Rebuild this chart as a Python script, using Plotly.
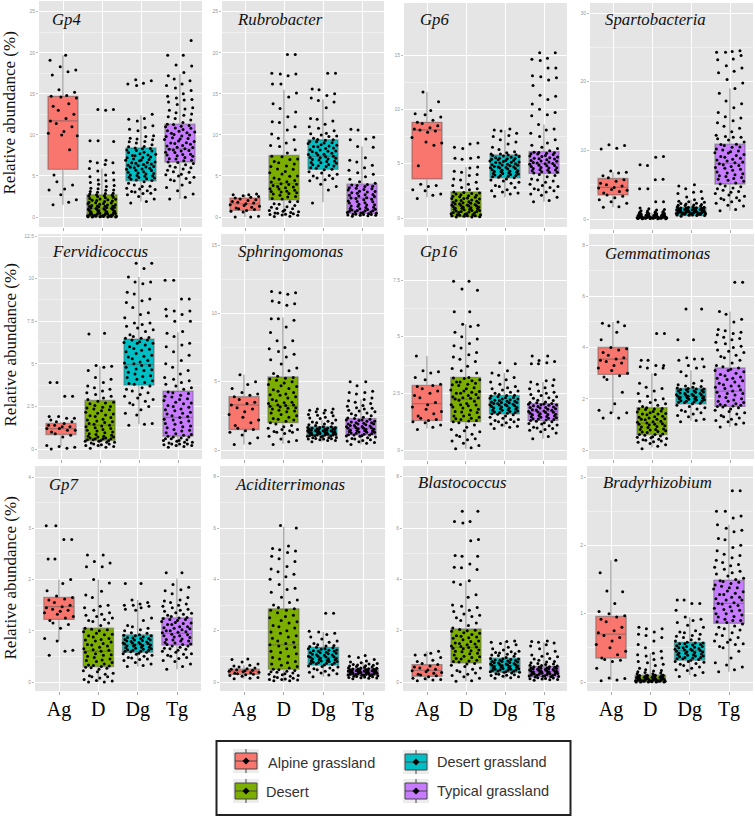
import plotly.graph_objects as go

W, H = 755, 817
CATS = ["Ag", "D", "Dg", "Tg"]
COLORS = ["#F8766D", "#7CAE00", "#00BFC4", "#C77CFF"]
LEGEND_NAMES = ["Alpine grassland", "Desert", "Desert grassland", "Typical grassland"]
TAXA = ["Gp4", "Rubrobacter", "Gp6", "Spartobacteria", "Fervidicoccus", "Sphringomonas",
        "Gp16", "Gemmatimonas", "Gp7", "Aciditerrimonas", "Blastococcus", "Bradyrhizobium"]

# box statistics: low whisker, q1, median, q3, high whisker for Ag, D, Dg, Tg
GP4_STATS = [[1.5, 5.8, 11.7, 14.7, 19.7], [0, 0, 1.05, 2.7, 5.9], [1.9, 4.4, 6.3, 8.4, 12.4], [2.2, 6.7, 8.3, 11.3, 17.4]]
RUB_STATS = [[0, 0.8, 1.6, 2.3, 2.7], [0.1, 2.1, 4.1, 7.5, 15.5], [1.8, 5.8, 7.4, 9.4, 14.3], [0.05, 0.45, 2.3, 4.0, 8.6]]
GP6_STATS = [[1.9, 3.6, 8.1, 8.8, 11.6], [0.05, 0.1, 1.15, 2.4, 4.7], [1.9, 3.7, 4.8, 5.8, 8.1], [1.5, 4.1, 5.0, 6.1, 8.6]]
SPA_STATS = [[1.7, 3.5, 4.6, 5.9, 6.8], [0, 0.05, 0.2, 0.35, 0.9], [0.3, 0.5, 1.1, 1.7, 2.8], [1.2, 5.1, 8.1, 10.9, 19]]
FER_STATS = [[0.15, 0.85, 1.2, 1.5, 1.6], [0.05, 0.5, 1.4, 2.85, 4.85], [1.45, 3.75, 4.95, 6.45, 10.1], [0.1, 0.75, 1.85, 3.4, 6.85]]
SPH_STATS = [[0.4, 1.5, 3.3, 3.9, 5.5], [0.45, 2.0, 3.25, 5.35, 9.7], [0.6, 1.05, 1.35, 1.7, 2.2], [0.4, 1.1, 1.6, 2.3, 3.7]]
G16_STATS = [[0.95, 1.3, 2.05, 2.85, 4.15], [0.05, 1.25, 2.25, 3.2, 5.55], [1.0, 1.6, 2.05, 2.4, 3.4], [0.5, 1.3, 1.7, 2.05, 3.0]]
GEM_STATS = [[1.45, 2.95, 3.55, 4.0, 5.0], [0.1, 0.6, 1.05, 1.65, 3.0], [1.15, 1.8, 2.1, 2.4, 3.1], [0.9, 1.7, 2.3, 3.2, 5.4]]
GP7_STATS = [[0.8, 1.22, 1.47, 1.65, 2.0], [0, 0.3, 0.6, 1.05, 2.0], [0.3, 0.58, 0.73, 0.92, 1.6], [0.25, 0.72, 0.95, 1.25, 2.02]]
ACI_STATS = [[0.13, 0.3, 0.42, 0.5, 0.65], [0, 0.5, 1.45, 2.85, 6.05], [0.2, 0.66, 0.97, 1.35, 1.95], [0.13, 0.26, 0.4, 0.52, 0.78]]
BLA_STATS = [[0.05, 0.22, 0.45, 0.68, 1.2], [0.03, 0.75, 1.35, 2.07, 3.95], [0.13, 0.38, 0.65, 0.93, 1.6], [0.07, 0.2, 0.4, 0.6, 1.55]]
BRA_STATS = [[0.03, 0.35, 0.7, 0.96, 1.78], [0, 0, 0.04, 0.1, 0.42], [0.1, 0.32, 0.46, 0.58, 0.95], [0.15, 0.86, 1.15, 1.49, 2.3]]

# jittered sample points
GP4_AG = [19.7,19.1,18.3,17.9,17.7,17.3,15.5,15.2,14.8,14.7,14.6,14.5,13.8,13.5,13.0,12.5,12.0,11.7,11.4,11.0,10.4,10.2,10.0,9.9,8.2,5.1,4.3,3.9,3.4,3.3,2.7,2.1,1.8,1.5]
GP4_D = [13.1,13.1,13.0,9.3,9.3,9.2,6.9,6.8,6.6,6.6,6.4,5.9,5.6,5.4,5.1,4.9,4.5,4.5,4.4,4.2,4.0,3.7,3.5,3.3,3.1,3.0,2.9,2.8,2.7,2.6,2.5,2.4,2.2,2.1,2.0,1.9,1.8,1.6,1.5,1.4,1.3,1.3,1.2,1.1,1.0,0.9,0.9,0.8,0.7,0.6,0.5,0.5,0.4,0.3,0.3,0.2,0.2,0.1,0.1,0.1,0.05,0.05,0,0]
GP4_DG = [16.7,16.6,16.3,16.2,16.0,12.5,12.0,11.9,11.7,11.1,10.9,10.7,10.5,9.9,9.8,9.6,9.5,9.4,9.2,9.0,8.8,8.6,8.4,8.3,8.1,7.9,7.7,7.5,7.3,7.2,7.0,6.9,6.7,6.6,6.4,6.3,6.1,6.0,5.8,5.7,5.5,5.3,5.1,5.0,4.8,4.6,4.5,4.3,4.1,3.9,3.7,3.5,3.4,3.2,3.1,2.9,2.7,2.5,2.2,1.9,1.7]
GP4_TG = [21.5,19.7,19.7,18.5,18.4,17.6,17.2,16.8,16.6,16.2,16.0,15.7,15.4,15.0,14.7,14.5,14.3,14.0,13.7,13.3,13.0,12.7,12.4,12.2,12.0,11.8,11.5,11.3,11.0,10.8,10.5,10.2,10.0,9.8,9.5,9.2,9.0,8.7,8.5,8.3,8.1,7.9,7.6,7.4,7.1,6.9,6.7,6.5,6.2,6.0,5.7,5.5,5.2,5.0,4.7,4.4,4.2,3.9,3.6,3.2,2.8,2.4,2.2]
RUB_AG = [2.8,2.7,2.7,2.6,2.5,2.4,2.3,2.2,2.1,2.0,1.9,1.8,1.7,1.6,1.5,1.4,1.3,1.2,1.1,1.0,0.9,0.8,0.7,0.6,0.1,0.0,0.0]
RUB_D = [19.8,19.8,17.5,17.4,17.4,17.2,16.2,16.2,15.1,14.6,13.8,13.2,12.8,12.2,11.6,11.5,11.0,10.6,10.1,9.6,9.4,9.0,8.7,8.6,8.2,7.8,7.4,7.0,6.6,6.2,5.8,5.4,5.0,4.6,4.3,4.0,3.7,3.4,3.1,2.8,2.5,2.2,1.9,1.6,1.4,1.2,1.0,0.8,0.7,0.5,0.4,0.3,0.2,0.1,0.05]
RUB_DG = [17.5,17.5,15.6,15.5,15.0,14.8,14.5,14.2,14.0,13.3,12.0,11.9,11.7,11.3,11.0,10.8,10.5,10.2,10.0,9.8,9.6,9.4,9.2,9.0,8.8,8.6,8.4,8.2,8.0,7.8,7.6,7.4,7.2,7.0,6.8,6.6,6.4,6.2,6.0,5.8,5.5,5.2,5.0,4.7,4.4,4.0,3.7,3.3,1.7]
RUB_TG = [10.7,10.6,9.7,9.5,9.4,8.6,8.5,7.2,6.9,6.7,6.3,6.0,5.7,5.4,5.2,4.9,4.6,4.3,4.1,3.9,3.7,3.5,3.3,3.1,2.9,2.7,2.5,2.3,2.1,1.9,1.7,1.5,1.3,1.2,1.0,0.9,0.8,0.7,0.6,0.5,0.4,0.3,0.3,0.2,0.2,0.1]
GP6_AG = [11.6,10.7,9.9,9.6,9.5,9.3,9.0,8.8,8.7,8.5,8.3,8.2,8.1,8.0,7.9,7.4,7.0,6.9,6.7,4.8,3.1,3.0,2.9,2.6,2.5,2.2,2.1,1.8]
GP6_D = [6.9,6.8,6.5,6.4,5.6,5.5,5.5,5.4,4.7,4.6,4.3,4.2,4.0,3.9,3.6,3.5,3.3,3.1,3.0,2.8,2.7,2.6,2.4,2.3,2.1,2.0,1.9,1.8,1.6,1.5,1.4,1.3,1.2,1.1,1.0,0.9,0.8,0.7,0.6,0.5,0.4,0.3,0.3,0.2,0.2,0.1,0.1]
GP6_DG = [8.2,8.1,8.0,7.8,7.6,7.5,7.2,7.0,6.8,6.5,6.3,6.1,6.0,5.9,5.8,5.7,5.6,5.5,5.4,5.3,5.2,5.1,5.0,4.9,4.8,4.7,4.6,4.5,4.4,4.3,4.2,4.1,4.0,3.9,3.8,3.7,3.5,3.4,3.2,3.0,2.8,2.6,2.5,2.3,2.2,2.0]
GP6_TG = [15.2,15.2,14.7,14.6,14.5,13.8,13.8,13.1,13.0,12.9,12.7,12.2,11.3,11.2,10.9,10.5,10.0,9.7,9.5,9.4,8.6,8.2,8.1,7.8,7.5,7.2,6.9,6.7,6.5,6.2,6.0,5.9,5.7,5.5,5.3,5.1,5.0,4.8,4.6,4.4,4.2,4.0,3.8,3.5,3.3,3.1,2.9,2.7,2.5,2.2,1.6,1.5]
SPA_AG = [10.8,10.7,10.3,10.2,7.0,6.8,6.7,6.3,6.0,5.7,5.5,5.2,5.0,4.8,4.6,4.5,4.3,4.2,4.0,3.8,3.5,3.3,3.1,2.8,2.5,2.3,1.8,1.7]
SPA_D = [9.1,9.0,7.9,7.8,5.8,5.7,4.4,4.4,2.5,2.5,1.6,1.5,1.4,1.3,1.2,1.1,1.0,0.9,0.9,0.8,0.8,0.7,0.7,0.6,0.6,0.5,0.5,0.5,0.4,0.4,0.4,0.3,0.3,0.3,0.3,0.2,0.2,0.2,0.2,0.1,0.1,0.1,0.1,0.05,0.05]
SPA_DG = [5.0,4.8,4.4,4.0,3.9,3.7,3.2,3.0,2.8,2.6,2.5,2.3,2.2,2.1,2.0,1.9,1.8,1.7,1.6,1.5,1.5,1.4,1.4,1.3,1.3,1.2,1.2,1.1,1.1,1.0,1.0,0.9,0.9,0.8,0.8,0.7,0.7,0.6,0.6,0.5,0.5,0.4]
SPA_TG = [24.5,24.4,24.3,24.3,23.8,23.3,23.2,22.3,22.0,21.5,21.3,20.3,19.8,19.0,18.3,17.2,16.8,16.2,15.5,14.9,14.7,14.3,14.0,13.5,13.2,12.7,12.2,11.9,11.5,11.2,10.9,10.5,10.2,9.8,9.4,9.0,8.6,8.2,7.9,7.5,7.1,6.7,6.3,5.9,5.5,5.1,4.8,4.5,4.2,3.9,3.5,3.1,2.8,2.5,2.0,1.4,1.2]
FER_AG = [3.9,3.9,3.1,3.1,1.9,1.9,1.8,1.8,1.7,1.6,1.6,1.5,1.4,1.4,1.3,1.3,1.2,1.2,1.1,1.1,1.0,0.9,0.8,0.7,0.2,0.15,0.1,0.05,0.0]
FER_D = [6.8,6.75,4.9,4.85,4.8,4.6,4.2,4.1,3.9,3.7,3.5,3.4,3.3,3.1,3.0,2.9,2.8,2.7,2.5,2.4,2.3,2.1,2.0,1.9,1.7,1.6,1.5,1.4,1.3,1.2,1.1,1.0,0.9,0.8,0.7,0.6,0.6,0.5,0.4,0.3,0.3,0.2,0.2,0.1,0.05]
FER_DG = [10.9,10.9,10.6,10.1,9.8,9.8,9.7,9.2,9.1,8.8,8.7,8.6,8.3,8.0,7.9,7.7,7.4,7.4,7.3,7.1,6.9,6.7,6.5,6.4,6.2,6.0,5.8,5.6,5.4,5.2,5.0,4.9,4.7,4.5,4.3,4.1,3.9,3.7,3.5,3.3,3.1,2.9,2.7,2.5,2.3,2.1,2.0,1.5,1.45,1.4]
FER_TG = [9.9,9.9,8.8,8.8,8.2,8.1,8.1,7.9,7.8,7.5,7.5,6.9,6.8,6.6,6.2,6.1,6.0,5.7,5.5,5.2,5.0,4.8,4.6,4.4,4.2,4.1,3.9,3.7,3.5,3.3,3.1,2.9,2.7,2.5,2.3,2.1,1.9,1.7,1.5,1.3,1.1,0.9,0.8,0.7,0.6,0.5,0.4,0.3,0.3,0.2,0.1]
SPH_AG = [5.5,5.0,4.8,4.5,4.2,4.1,4.0,3.9,3.7,3.5,3.4,3.3,3.1,3.0,2.8,2.6,2.4,2.2,2.0,1.8,1.6,1.5,1.4,1.3,1.1,0.9,0.5,0.4]
SPH_D = [11.6,11.5,11.5,11.4,10.9,10.8,10.7,10.6,9.6,9.6,9.5,9.0,8.6,8.0,8.0,7.5,7.4,7.2,7.0,6.8,6.6,6.3,6.0,5.8,5.6,5.4,5.2,5.0,4.8,4.5,4.3,4.1,3.9,3.7,3.5,3.3,3.2,3.0,2.8,2.6,2.4,2.2,2.0,1.8,1.6,1.5,1.3,1.2,1.0,0.8,0.7,0.6,0.4]
SPH_DG = [3.0,3.0,2.9,2.9,2.8,2.7,2.6,2.5,2.4,2.3,2.2,2.1,2.0,1.9,1.8,1.7,1.7,1.6,1.5,1.5,1.4,1.4,1.3,1.3,1.2,1.2,1.2,1.1,1.1,1.0,1.0,0.9,0.9,0.8,0.8,0.7,0.7,0.6]
SPH_TG = [5.0,5.0,4.7,4.3,4.2,4.2,4.1,3.8,3.7,3.6,3.5,3.4,3.2,3.1,3.0,2.9,2.8,2.7,2.5,2.4,2.3,2.2,2.1,2.0,1.9,1.9,1.8,1.7,1.6,1.6,1.5,1.4,1.4,1.3,1.3,1.2,1.1,1.1,1.0,0.9,0.8,0.7,0.6,0.5,0.4]
G16_AG = [4.15,3.5,3.45,3.4,3.2,3.1,2.9,2.85,2.8,2.7,2.6,2.5,2.4,2.3,2.1,2.0,1.9,1.8,1.7,1.6,1.5,1.4,1.35,1.3,1.25,1.2,1.1,1.0,0.9]
G16_D = [7.45,7.45,7.1,7.05,6.1,6.1,5.55,5.5,5.45,5.2,5.0,4.9,4.7,4.6,4.5,4.3,4.2,4.1,4.0,3.9,3.7,3.6,3.5,3.4,3.2,3.1,3.0,2.9,2.7,2.6,2.5,2.4,2.3,2.2,2.0,1.9,1.8,1.7,1.5,1.4,1.3,1.2,1.1,1.0,0.9,0.8,0.7,0.6,0.5,0.4,0.3,0.2,0.1,0.05]
G16_DG = [3.85,3.8,3.5,3.4,3.3,3.2,3.1,3.0,2.9,2.8,2.7,2.6,2.5,2.45,2.4,2.3,2.25,2.2,2.15,2.1,2.05,2.0,1.95,1.9,1.85,1.8,1.75,1.7,1.65,1.6,1.55,1.5,1.4,1.35,1.3,1.25,1.2,1.1,1.0,0.95]
G16_TG = [4.15,4.15,3.95,3.9,3.85,3.8,3.8,3.1,3.05,3.0,2.9,2.85,2.75,2.7,2.6,2.5,2.4,2.3,2.2,2.1,2.05,2.0,1.95,1.9,1.85,1.8,1.75,1.7,1.65,1.6,1.55,1.5,1.45,1.4,1.35,1.3,1.25,1.2,1.15,1.1,1.0,0.95,0.9,0.8,0.6,0.5]
GEM_AG = [5.0,4.95,4.85,4.85,4.6,4.3,4.0,3.95,3.9,3.8,3.7,3.6,3.55,3.5,3.45,3.4,3.3,3.2,3.1,3.0,2.9,2.85,2.75,2.25,1.8,1.55,1.45,1.45,1.25,1.25]
GEM_D = [4.55,4.55,3.5,3.5,3.3,3.3,3.25,3.2,3.2,2.95,2.6,2.45,2.4,2.3,2.2,2.1,2.0,1.9,1.8,1.7,1.65,1.6,1.5,1.45,1.4,1.3,1.25,1.2,1.1,1.05,1.0,0.95,0.9,0.8,0.75,0.7,0.6,0.55,0.5,0.45,0.4,0.35,0.3,0.25,0.2,0.15,0.05]
GEM_DG = [5.5,5.5,4.3,4.3,3.6,3.55,3.55,3.5,3.3,3.25,3.2,3.05,2.9,2.7,2.6,2.5,2.45,2.4,2.35,2.3,2.25,2.2,2.15,2.1,2.05,2.0,1.95,1.9,1.85,1.8,1.7,1.65,1.6,1.5,1.45,1.4,1.3,1.2,1.15,1.1]
GEM_TG = [6.55,6.55,5.4,5.3,5.1,5.0,4.7,4.65,4.6,4.5,4.4,4.3,4.2,4.0,3.9,3.8,3.7,3.6,3.5,3.3,3.2,3.1,3.0,2.9,2.8,2.7,2.6,2.5,2.4,2.3,2.2,2.1,2.0,1.9,1.8,1.75,1.7,1.65,1.6,1.5,1.45,1.4,1.3,1.2,1.15,1.1,1.0,0.9]
GP7_AG = [3.05,3.05,2.78,2.78,2.4,2.4,2.0,1.92,1.78,1.68,1.65,1.62,1.6,1.55,1.5,1.47,1.45,1.42,1.4,1.38,1.35,1.32,1.28,1.25,1.2,1.15,1.12,1.05,0.85,0.8,0.62,0.6,0.52]
GP7_D = [2.48,2.48,2.35,2.32,2.25,2.25,2.0,1.93,1.77,1.7,1.65,1.5,1.48,1.4,1.35,1.3,1.25,1.2,1.15,1.1,1.05,1.0,0.95,0.9,0.85,0.8,0.75,0.7,0.65,0.6,0.55,0.5,0.45,0.4,0.35,0.3,0.28,0.25,0.22,0.2,0.15,0.1,0.1,0.05,0.02,0.0,0.0]
GP7_DG = [1.92,1.92,1.6,1.55,1.52,1.5,1.5,1.48,1.45,1.42,1.4,1.25,1.2,1.1,1.05,1.0,0.95,0.92,0.9,0.87,0.85,0.82,0.8,0.78,0.75,0.72,0.7,0.68,0.65,0.62,0.6,0.58,0.55,0.52,0.5,0.47,0.45,0.42,0.38,0.35,0.32,0.3]
GP7_TG = [2.13,2.13,1.9,1.85,1.8,1.78,1.72,1.65,1.6,1.58,1.55,1.5,1.48,1.45,1.4,1.35,1.32,1.28,1.25,1.22,1.18,1.15,1.12,1.08,1.05,1.02,1.0,0.97,0.93,0.9,0.87,0.83,0.8,0.77,0.73,0.7,0.68,0.65,0.62,0.6,0.55,0.52,0.48,0.42,0.3,0.25]
ACI_AG = [0.9,0.88,0.78,0.7,0.65,0.62,0.58,0.55,0.52,0.5,0.48,0.46,0.44,0.42,0.4,0.38,0.36,0.34,0.32,0.3,0.28,0.25,0.22,0.18,0.15,0.13]
ACI_D = [6.1,6.0,5.3,5.2,5.15,5.1,5.05,4.9,4.8,4.7,4.5,4.4,4.3,4.2,4.1,4.0,3.8,3.65,3.6,3.5,3.3,3.2,3.1,3.0,2.9,2.85,2.8,2.6,2.4,2.2,2.0,1.8,1.6,1.45,1.3,1.1,0.9,0.7,0.55,0.45,0.4,0.35,0.3,0.25,0.2,0.15,0.1,0.1,0.05,0.05]
ACI_DG = [2.68,2.68,1.98,1.95,1.9,1.85,1.75,1.68,1.6,1.55,1.5,1.45,1.4,1.35,1.3,1.25,1.2,1.15,1.1,1.05,1.0,0.97,0.93,0.9,0.87,0.83,0.8,0.77,0.73,0.7,0.66,0.62,0.58,0.52,0.48,0.42,0.38,0.32,0.27,0.2]
ACI_TG = [1.03,1.0,0.95,0.88,0.82,0.78,0.75,0.72,0.68,0.65,0.62,0.6,0.58,0.56,0.54,0.52,0.5,0.48,0.46,0.44,0.42,0.4,0.38,0.36,0.34,0.32,0.3,0.28,0.26,0.24,0.22,0.2,0.18,0.16,0.13]
BLA_AG = [1.2,1.12,1.05,1.05,0.95,0.85,0.8,0.72,0.68,0.62,0.58,0.55,0.5,0.47,0.44,0.4,0.37,0.34,0.3,0.27,0.24,0.2,0.15,0.13,0.1,0.08,0.05]
BLA_D = [6.65,6.65,6.25,6.25,6.2,5.55,5.5,4.93,4.9,4.9,4.6,4.47,4.45,4.38,3.95,3.9,3.8,3.4,3.3,3.0,2.95,2.9,2.8,2.65,2.6,2.5,2.3,2.2,2.1,2.0,1.9,1.8,1.7,1.6,1.5,1.4,1.3,1.2,1.1,1.0,0.9,0.8,0.7,0.6,0.5,0.45,0.4,0.3,0.25,0.15,0.05,0.03]
BLA_DG = [1.6,1.58,1.55,1.5,1.45,1.35,1.3,1.25,1.2,1.15,1.1,1.05,1.0,0.95,0.92,0.88,0.84,0.8,0.76,0.72,0.68,0.65,0.62,0.58,0.55,0.52,0.48,0.45,0.42,0.38,0.35,0.32,0.28,0.25,0.2,0.15]
BLA_TG = [1.6,1.58,1.55,1.52,1.45,1.4,1.3,1.2,1.1,1.05,0.98,0.92,0.85,0.8,0.75,0.7,0.65,0.62,0.58,0.55,0.52,0.5,0.47,0.44,0.42,0.4,0.37,0.34,0.32,0.3,0.27,0.25,0.22,0.2,0.17,0.14,0.1,0.07]
BRA_AG = [1.78,1.6,1.33,1.32,1.15,1.03,1.0,0.97,0.95,0.92,0.88,0.8,0.75,0.72,0.68,0.65,0.6,0.55,0.5,0.45,0.4,0.35,0.33,0.32,0.3,0.2,0.06,0.05,0.03,0.02]
BRA_D = [0.8,0.78,0.78,0.73,0.7,0.68,0.65,0.6,0.55,0.5,0.45,0.42,0.4,0.38,0.35,0.33,0.3,0.28,0.26,0.24,0.2,0.18,0.16,0.14,0.12,0.1,0.09,0.08,0.07,0.06,0.06,0.05,0.05,0.04,0.04,0.03,0.03,0.02,0.02,0.01,0.01,0.01,0.0,0.0,0.0]
BRA_DG = [1.2,1.2,1.15,1.15,1.05,0.95,0.92,0.9,0.87,0.83,0.8,0.75,0.72,0.7,0.67,0.63,0.6,0.58,0.56,0.54,0.52,0.5,0.48,0.46,0.44,0.42,0.4,0.38,0.36,0.34,0.32,0.3,0.27,0.24,0.2,0.17,0.14,0.1,0.08]
BRA_TG = [2.8,2.8,2.5,2.5,2.43,2.4,2.3,2.25,2.22,2.2,2.1,2.08,2.0,1.97,1.92,1.87,1.85,1.82,1.75,1.7,1.68,1.62,1.58,1.55,1.5,1.47,1.42,1.38,1.33,1.28,1.24,1.2,1.15,1.1,1.05,1.0,0.95,0.9,0.87,0.82,0.78,0.72,0.68,0.62,0.58,0.55,0.5,0.45,0.35,0.28,0.25,0.22,0.18,0.15]

# further points of the dense clouds for D, Dg, Tg in each panel
GP4_MORE = [[2.65,2.55,2.35,2.25,2.05,1.95,1.75,1.65,1.55,1.45,1.35,1.25,1.15,1.05,0.95,0.85,0.75,0.65,0.55,0.45,0.35,0.25,0.15,0.12,0.08,0.03,0.02,0.01,2.85,3.25,3.45,3.85,0.42,0.62,0.33,0.18,1.02,1.28,1.72,2.15],
            [8.35,8.15,7.85,7.65,7.45,7.25,7.05,6.85,6.65,6.45,6.25,6.05,5.85,5.65,5.45,5.25,5.05,4.85,4.65,4.45,8.55,8.05,7.55,6.95,6.55,6.15,5.95,5.35,4.95,4.75,3.35,3.75,9.15,3.05,2.85],
            [11.25,11.05,10.85,10.65,10.45,10.25,10.05,9.85,9.65,9.45,9.25,9.05,8.85,8.65,8.45,8.25,8.05,7.85,7.65,7.45,7.25,7.05,6.85,6.65,11.15,10.35,9.55,8.95,8.15,7.55,6.35,6.05,5.85,5.45,5.15,4.85,4.55,12.55,13.15,14.25]]
RUB_MORE = [[7.35,7.05,6.75,6.45,6.15,5.85,5.55,5.25,4.95,4.75,4.45,4.25,4.05,3.85,3.65,3.45,3.25,3.05,2.85,2.65,2.45,2.25,1.85,1.55,1.25,1.05,0.85,0.65,0.55,0.45,0.35,0.25,3.95,3.55,3.15,2.95],
            [9.35,9.15,8.95,8.75,8.55,8.35,8.15,7.95,7.75,7.55,7.35,7.15,6.95,6.75,6.55,6.35,6.15,5.95,9.45,9.05,8.65,8.05,7.65,7.25,7.05,6.65,6.25,5.75,5.35,5.05,4.75,4.55,10.15,9.85],
            [3.95,3.75,3.55,3.35,3.15,2.95,2.75,2.55,2.35,2.15,1.95,1.75,1.55,1.35,1.15,0.95,0.85,0.75,0.65,0.55,0.45,0.35,0.25,0.15,3.85,3.45,3.05,2.65,2.25,1.85,1.45,1.05,0.75,0.55,0.35]]
GP6_MORE = [[2.35,2.25,2.15,2.05,1.95,1.85,1.75,1.65,1.55,1.45,1.35,1.25,1.15,1.05,0.95,0.85,0.75,0.65,0.55,0.45,0.35,0.25,0.15,0.12,0.2,0.3,0.4,0.5,0.6,0.7,0.8,0.9,1.0,1.1,1.2,1.3,1.4,1.6,1.8,2.2],
            [5.75,5.65,5.55,5.45,5.35,5.25,5.15,5.05,4.95,4.85,4.75,4.65,4.55,4.45,4.35,4.25,4.15,4.05,3.95,3.85,3.75,5.82,5.48,5.12,4.88,4.62,4.28,3.92,5.9,5.3,4.7,4.1,3.6,3.3,2.9,2.4],
            [6.05,5.95,5.85,5.75,5.65,5.55,5.45,5.35,5.25,5.15,5.05,4.95,4.85,4.75,4.65,4.55,4.45,4.35,4.25,4.15,6.02,5.62,5.22,4.82,4.42,5.92,5.42,5.02,4.62,4.22,3.9,3.6,3.4,3.0,2.8,2.6,2.4,2.1,1.9,6.4]]
SPA_MORE = [[0.85,0.75,0.65,0.55,0.45,0.35,0.25,0.15,0.08,0.02,0.72,0.62,0.52,0.42,0.32,0.22,0.12,0.06,0.38,0.28,0.18,0.48,0.58,0.68,1.15,1.05,0.95,0.35,0.25,0.15],
            [1.75,1.65,1.55,1.45,1.35,1.25,1.15,1.05,0.95,0.85,0.75,0.65,0.55,1.72,1.62,1.48,1.38,1.28,1.18,1.08,0.98,0.88,0.78,0.68,1.52,1.32,1.12,0.92,2.25,2.05,1.95,2.45],
            [10.85,10.45,10.05,9.65,9.25,8.85,8.45,8.05,7.65,7.25,6.85,6.45,6.05,5.65,5.25,10.7,9.9,9.1,8.3,7.4,6.6,5.8,11.7,11.9,12.0,4.7,4.4,4.0,3.7,3.3,3.0,2.7,2.3,1.9,6.2,7.8,8.7,9.6]]
FER_MORE = [[2.75,2.65,2.55,2.45,2.35,2.25,2.15,2.05,1.95,1.85,1.75,1.65,1.55,1.45,1.35,1.25,1.15,1.05,0.95,0.85,0.75,0.65,0.55,0.45,0.35,0.25,0.15,0.75,0.7,0.65,0.6,0.55,0.5,0.45,0.4,3.2,3.6],
            [6.4,6.3,6.2,6.1,5.9,5.7,5.5,5.3,5.1,4.9,4.8,4.6,4.4,4.2,4.0,3.8,6.25,5.85,5.45,5.05,4.65,4.25,3.85,3.6,3.4,3.2,3.0,2.8,2.6,7.0,7.2,6.6,6.55,6.5],
            [3.35,3.25,3.15,3.05,2.95,2.85,2.75,2.65,2.55,2.45,2.35,2.25,2.15,2.05,1.95,1.85,1.75,1.65,1.55,1.45,1.35,1.25,1.15,1.05,0.95,0.85,0.75,0.7,0.65,0.6,0.55,0.5,0.45,0.4,0.35,0.3,0.25,0.2,0.15,3.6,3.8,4.0]]
SPH_MORE = [[5.3,5.1,4.9,4.7,4.4,4.2,4.0,3.8,3.6,3.4,3.25,3.1,2.9,2.7,2.5,2.3,2.1,1.9,1.7,1.5,1.4,1.35,1.3,5.25,4.65,4.05,3.45,2.85,2.25,3.3,3.15,3.05],
            [1.65,1.6,1.55,1.5,1.45,1.4,1.35,1.3,1.25,1.2,1.15,1.1,1.05,1.65,1.55,1.45,1.35,1.25,1.15,1.05,0.95,0.85,0.75,1.62,1.52,1.42,1.32,1.22,1.12,1.02,0.92,0.82,2.35,2.55,2.75,1.85,1.95,2.05],
            [2.25,2.15,2.05,1.95,1.85,1.75,1.65,1.55,1.45,1.35,1.25,1.15,1.05,0.95,0.85,0.75,2.35,2.2,2.1,2.0,1.9,1.8,1.72,1.62,1.52,1.42,1.32,1.22,1.12,1.02,0.65,0.55,2.55,2.65,2.85,3.05,3.25]]
G16_MORE = [[3.15,3.05,2.95,2.85,2.75,2.65,2.55,2.45,2.35,2.25,2.15,2.05,1.95,1.85,1.75,1.65,1.55,1.45,1.35,1.25,3.18,2.88,2.58,2.28,1.98,1.68,1.38,3.0,2.5,2.3,2.0,1.5,1.28,0.85,0.65,0.45],
            [2.38,2.32,2.28,2.22,2.18,2.12,2.08,2.02,1.98,1.92,1.88,1.82,1.78,1.72,1.68,1.62,1.58,2.42,2.35,2.25,2.15,2.05,1.95,1.85,1.75,1.65,2.55,2.65,2.75,1.45,1.35,1.25,1.15,1.05,2.1,2.0],
            [2.03,1.98,1.92,1.88,1.82,1.78,1.72,1.68,1.62,1.58,1.52,1.48,1.42,1.38,1.32,2.02,1.97,1.87,1.77,1.67,1.57,1.47,1.37,1.27,1.17,2.08,2.12,2.18,2.28,2.35,2.45,2.55,1.07,0.97,0.87,0.75]]
GEM_MORE = [[1.62,1.58,1.52,1.48,1.42,1.38,1.32,1.28,1.22,1.18,1.12,1.08,1.02,0.98,0.92,0.88,0.82,0.78,0.72,0.68,0.62,0.58,0.52,0.48,0.42,0.38,0.32,1.6,1.4,1.2,1.0,0.8,0.6,1.75,1.85,1.95],
            [2.38,2.32,2.28,2.22,2.18,2.12,2.08,2.02,1.98,1.92,1.88,1.82,2.38,2.3,2.2,2.1,2.0,1.9,2.36,2.26,2.16,2.06,1.96,1.86,2.42,2.48,2.55,1.75,1.55,1.35,2.15,2.05],
            [3.15,3.05,2.95,2.85,2.75,2.65,2.55,2.45,2.35,2.25,2.15,2.05,1.95,1.85,1.75,3.1,2.8,2.5,2.2,1.9,1.78,1.72,1.68,1.55,1.35,1.25,1.05,3.25,3.4,3.65,3.85,4.05,4.15,4.35,4.55]]
GP7_MORE = [[1.03,0.98,0.93,0.88,0.83,0.78,0.73,0.68,0.63,0.58,0.53,0.48,0.43,0.38,0.33,0.31,0.29,0.27,0.17,0.12,0.08,0.03,1.02,0.92,0.82,0.72,0.62,0.52,0.42,0.32,1.18,1.22,1.28,1.32,1.45],
            [0.91,0.88,0.85,0.83,0.81,0.79,0.77,0.74,0.72,0.7,0.68,0.66,0.64,0.62,0.6,0.9,0.86,0.82,0.76,0.71,0.67,0.63,0.59,0.56,0.54,0.48,0.44,1.02,1.08,0.96,0.76,0.74],
            [1.24,1.2,1.16,1.12,1.08,1.04,1.0,0.96,0.92,0.88,0.84,0.8,0.76,0.73,1.22,1.14,1.06,0.98,0.9,0.82,0.74,1.26,1.3,1.34,1.38,1.42,1.52,0.7,0.66,0.64,0.58,0.54,0.5,0.46,0.4,0.35]]
ACI_MORE = [[2.8,2.7,2.55,2.5,2.35,2.3,2.15,2.1,1.95,1.9,1.75,1.7,1.55,1.5,1.4,1.35,1.2,1.15,1.0,0.95,0.8,0.75,0.65,0.6,0.5,0.48,0.42,0.38,0.32,0.28,0.22,0.18,0.12,0.08],
            [1.33,1.28,1.24,1.2,1.16,1.12,1.08,1.04,1.0,0.96,0.92,0.88,0.84,0.8,0.76,0.72,0.68,1.3,1.22,1.14,1.06,0.98,0.9,0.82,0.74,1.38,1.42,0.6,0.55,0.46,0.35],
            [0.51,0.49,0.47,0.45,0.43,0.41,0.39,0.37,0.35,0.33,0.31,0.29,0.27,0.51,0.48,0.45,0.42,0.39,0.36,0.33,0.3,0.27,0.24,0.21,0.19,0.17,0.15,0.43,0.41,0.37,0.55,0.57,0.63,0.66,0.7]]
BLA_MORE = [[2.05,1.98,1.92,1.85,1.78,1.72,1.65,1.58,1.52,1.45,1.38,1.32,1.25,1.18,1.12,1.05,0.98,0.92,0.85,0.78,2.02,1.75,1.48,1.36,1.34,1.22,0.95,0.82,0.72,0.65,0.55,0.35,0.2,2.4,2.55,2.75],
            [0.91,0.86,0.82,0.78,0.74,0.7,0.66,0.63,0.6,0.57,0.53,0.5,0.46,0.43,0.4,0.9,0.8,0.7,0.6,0.5,0.4,0.85,0.75,0.67,0.56,0.47,0.38,0.3,0.26,0.22,1.03,1.08,1.13,1.18,0.17],
            [0.59,0.57,0.55,0.53,0.51,0.49,0.46,0.43,0.41,0.39,0.36,0.33,0.31,0.29,0.26,0.23,0.21,0.59,0.54,0.49,0.44,0.39,0.34,0.29,0.24,0.19,0.16,0.13,0.12,0.09,0.64,0.68,0.72,0.78,0.9,1.0]]
BRA_MORE = [[0.1,0.095,0.09,0.085,0.08,0.075,0.07,0.065,0.06,0.055,0.05,0.045,0.04,0.035,0.03,0.025,0.02,0.015,0.01,0.005,0.0,0.1,0.09,0.08,0.07,0.06,0.05,0.04,0.03,0.02,0.01,0.0,0.12,0.13,0.15,0.17],
            [0.57,0.55,0.53,0.51,0.49,0.47,0.45,0.43,0.41,0.39,0.37,0.35,0.33,0.56,0.52,0.48,0.44,0.4,0.36,0.34,0.57,0.5,0.46,0.42,0.38,0.62,0.65,0.68,0.73,0.26,0.22,0.18,0.29,0.3],
            [1.48,1.44,1.4,1.36,1.32,1.28,1.24,1.2,1.16,1.12,1.08,1.04,1.0,0.96,0.92,0.88,1.46,1.38,1.3,1.22,1.14,1.06,0.98,0.9,1.52,1.6,1.65,1.72,1.78,0.85,0.8,0.76,0.7,0.65,0.6,0.56,0.52]]

STATS = [GP4_STATS, RUB_STATS, GP6_STATS, SPA_STATS, FER_STATS, SPH_STATS, G16_STATS, GEM_STATS, GP7_STATS, ACI_STATS, BLA_STATS, BRA_STATS]
POINTS = [[GP4_AG, GP4_D, GP4_DG, GP4_TG], [RUB_AG, RUB_D, RUB_DG, RUB_TG], [GP6_AG, GP6_D, GP6_DG, GP6_TG], [SPA_AG, SPA_D, SPA_DG, SPA_TG],
          [FER_AG, FER_D, FER_DG, FER_TG], [SPH_AG, SPH_D, SPH_DG, SPH_TG], [G16_AG, G16_D, G16_DG, G16_TG], [GEM_AG, GEM_D, GEM_DG, GEM_TG],
          [GP7_AG, GP7_D, GP7_DG, GP7_TG], [ACI_AG, ACI_D, ACI_DG, ACI_TG], [BLA_AG, BLA_D, BLA_DG, BLA_TG], [BRA_AG, BRA_D, BRA_DG, BRA_TG]]
MORE = [GP4_MORE, RUB_MORE, GP6_MORE, SPA_MORE, FER_MORE, SPH_MORE, G16_MORE, GEM_MORE, GP7_MORE, ACI_MORE, BLA_MORE, BRA_MORE]
TICKS = [[0,5,10,15,20,25], [0,5,10,15,20,25], [0,5,10,15], [0,10,20,30],
         [0,2.5,5,7.5,10,12.5], [0,5,10,15], [0,2.5,5,7.5], [0,2,4,6,8],
         [0,1,2,3,4], [0,2,4,6,8], [0,2,4,6,8], [0,1,2,3]]

# geometry in pixels: left, right, top, bottom, first cat x, last cat x, y of 0, y of top tick
GEOM = [(39,202,1,227,63,180,217,11.7), (222,384,1,227,245,362,217,11.7), (404,567,3,227,427,544,218,55), (590,753,3,229,613,730,219,13),
        (38,202,234,459,61,178,449,236), (221,384,234,459,244,361,450,245), (404,567,235,460,427,543,450,280), (589,754,234,459,613,730,450,245),
        (35,201,466,691,59,177,682,477), (220,385,466,691,244,363,682,476.7), (403,567,466,691,427,544,682,476.7), (587,753,466,691,611,729,682,477)]
TITLE_POS = [(50,19),(235,20),(418,19),(603,19),(50,252),(236,252),(418,251),(603,253),(47,484),(233,484),(416,482),(601,483)]

def px(x): return x / W
def py(y): return 1 - y / H

fig = go.Figure()
layout = dict(width=W, height=H, margin=dict(l=0, r=0, t=0, b=0), paper_bgcolor="white",
              plot_bgcolor="#E5E5E5", showlegend=False, boxmode="overlay", annotations=[], shapes=[])

for i, (name, stats, pts, more, ticks, g, tp) in enumerate(zip(TAXA, STATS, POINTS, MORE, TICKS, GEOM, TITLE_POS)):
    n = "" if i == 0 else str(i + 1)
    left, right, top, bottom, c1, c4, y0, ytop = g
    step = (c4 - c1) / 3
    unit = (y0 - ytop) / ticks[-1]
    for j, cat in enumerate(CATS):
        lo, q1, med, q3, hi = stats[j]
        fig.add_trace(go.Box(x=[cat], lowerfence=[lo], q1=[q1], median=[med], q3=[q3], upperfence=[hi],
                             width=0.77, whiskerwidth=0, fillcolor=COLORS[j], boxpoints=False,
                             line=dict(color="rgba(90,90,90,0.5)", width=1.3), hoverinfo="skip",
                             xaxis="x" + n, yaxis="y" + n))
    for j, cat in enumerate(CATS):
        vals = sorted(pts[j] + (more[j - 1] if j > 0 else []))
        # Plotly's own jitter on four interleaved strips, so sparse points also spread across the box width
        for start, pos in ((0, -0.75), (1, 0.25), (2, 0.75), (3, -0.25)):
            part = vals[start::4]
            fig.add_trace(go.Box(x=[cat] * len(part), y=part, boxpoints="all", jitter=0.25, pointpos=pos, width=0.8,
                                 fillcolor="rgba(0,0,0,0)", line=dict(color="rgba(0,0,0,0)", width=0),
                                 marker=dict(color="black", size=3), hoverinfo="skip",
                                 xaxis="x" + n, yaxis="y" + n))
    layout["xaxis" + n] = dict(domain=[px(left), px(right)], range=[(left - c1) / step, (right - c1) / step],
                               type="category", categoryorder="array", categoryarray=CATS, anchor="y" + n,
                               showgrid=True, gridcolor="white", gridwidth=1, zeroline=False,
                               ticks="outside", ticklen=3, tickcolor="#aaaaaa", tickwidth=1,
                               showticklabels=i >= 8, ticklabelstandoff=-3,
                               tickfont=dict(family="Liberation Serif", size=20, color="#000000"))
    layout["yaxis" + n] = dict(domain=[py(bottom), py(top)], range=[(y0 - bottom) / unit, (y0 - top) / unit],
                               anchor="x" + n, tickvals=ticks, ticktext=[str(t) for t in ticks],
                               showgrid=True, gridcolor="white", gridwidth=1, zeroline=False,
                               minor=dict(tickvals=[(a + b) / 2 for a, b in zip(ticks, ticks[1:])], showgrid=True,
                                          gridcolor="#F0F0F0", gridwidth=0.6, ticks=""),
                               ticks="outside", ticklen=2, tickcolor="#bbbbbb", tickwidth=1,
                               tickfont=dict(family="Liberation Sans", size=5, color="#999999"))
    layout["annotations"].append(dict(text=name, x=px(tp[0]), y=py(tp[1]), xref="paper", yref="paper", xanchor="left",
                                      yanchor="middle", showarrow=False,
                                      font=dict(family="Liberation Serif", size=16.8, color="#111111", style="italic")))

for yc in (113, 345, 578):
    layout["annotations"].append(dict(text="Relative abundance (%)", x=px(9.5), y=py(yc), xref="paper", yref="paper",
                                      textangle=-90, showarrow=False, xanchor="center", yanchor="middle",
                                      font=dict(family="Liberation Serif", size=17, color="#111111")))

# legend frame and keys
layout["shapes"].append(dict(type="rect", xref="paper", yref="paper", x0=px(216.5), x1=px(570.5), y0=py(741), y1=py(815),
                             line=dict(color="#222222", width=2), fillcolor="white"))
KEY_POS = [(246, 761), (246, 791), (416, 762), (416, 791)]
TEXT_POS = [(266, 763), (264, 792), (435, 762), (435, 791)]
for (cx, cy), (tx, ty), col, label in zip(KEY_POS, TEXT_POS, COLORS, LEGEND_NAMES):
    def rect(x0, x1, y0, y1, **kw):
        layout["shapes"].append(dict(type="rect", xref="paper", yref="paper", x0=px(x0), x1=px(x1), y0=py(y0), y1=py(y1), **kw))
    def seg(x0, y0, x1, y1):
        layout["shapes"].append(dict(type="line", xref="paper", yref="paper", x0=px(x0), x1=px(x1), y0=py(y0), y1=py(y1),
                                     line=dict(color="#444444", width=1)))
    rect(cx - 13, cx + 13, cy - 12, cy + 12, fillcolor="#EDEDED", line=dict(width=0))
    seg(cx, cy - 12, cx, cy + 12)
    rect(cx - 11, cx + 11, cy - 8, cy + 8, fillcolor=col, line=dict(color="#444444", width=1))
    seg(cx - 11, cy, cx + 11, cy)
    d = f"M {px(cx-3.5)} {py(cy)} L {px(cx)} {py(cy-3.5)} L {px(cx+3.5)} {py(cy)} L {px(cx)} {py(cy+3.5)} Z"
    layout["shapes"].append(dict(type="path", xref="paper", yref="paper", path=d, fillcolor="black", line=dict(width=0)))
    layout["annotations"].append(dict(text=label, x=px(tx), y=py(ty), xref="paper", yref="paper", xanchor="left",
                                      yanchor="middle", showarrow=False,
                                      font=dict(family="Liberation Sans", size=14.5, color="#333333")))

fig.update_layout(**layout)
fig.write_html("out.html", config=dict(displayModeBar=False), post_script="document.body.style.margin='0';")
